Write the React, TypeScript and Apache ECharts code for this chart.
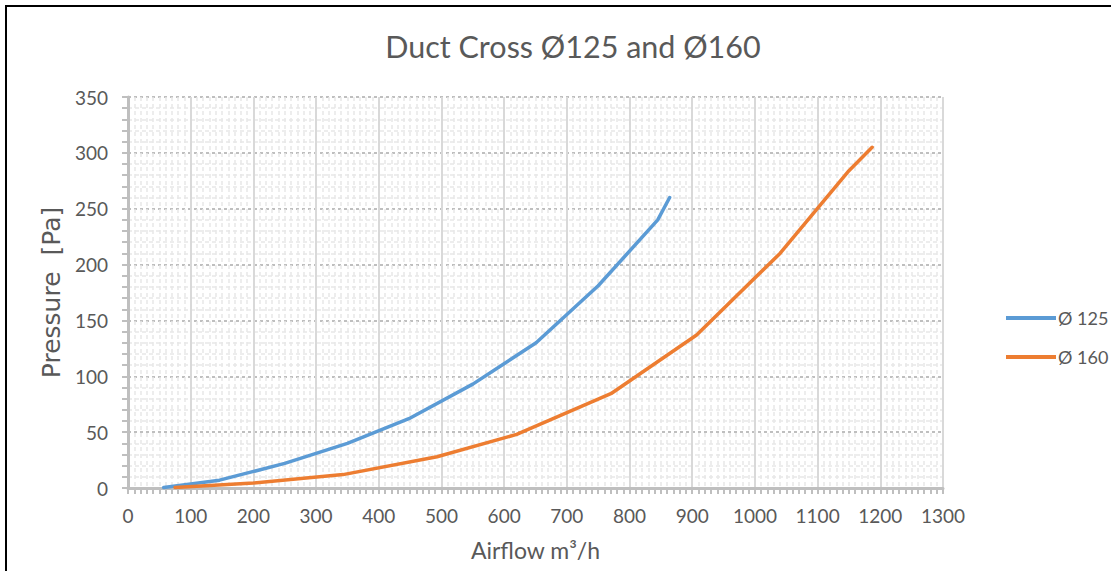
import React, { useEffect, useRef } from "react";
import * as echarts from "echarts";

const titleText = "Duct Cross Ø125 and Ø160";
const xAxisName = "Airflow m³/h";
const yAxisName = "Pressure  [Pa]";
const seriesNames = ["Ø 125", "Ø 160"];

const d125X = [57, 146, 250, 350, 448, 550, 651, 750, 845, 864];
const d125Y = [0.5, 7, 22, 40, 62, 93, 130, 181, 240, 260];

const d160X = [75, 200, 343, 493, 620, 772, 907, 1040, 1150, 1187];
const d160Y = [0.5, 4.5, 12, 28, 48, 85, 137, 210, 284, 305];

const FONT = "Lato, 'Open Sans', sans-serif";
const TXT = "#595959";

export default function App() {
  const ref = useRef<HTMLDivElement>(null);
  useEffect(() => {
    if (!ref.current) return;
    const chart = echarts.init(ref.current, undefined, { renderer: "svg" });
    const pairs = (xs: number[], ys: number[]) => xs.map((x, i) => [x, ys[i]]);
    chart.setOption({
      animation: false,
      backgroundColor: "#fff",
      textStyle: { fontFamily: FONT },
      title: {
        text: titleText,
        left: 568,
        textAlign: "center",
        top: 25,
        textStyle: { fontFamily: FONT, fontSize: 30.5, fontWeight: "normal", color: TXT },
      },
      graphic: [
        { type: "line", shape: { x1: 6, y1: 6, x2: 1111, y2: 6 }, style: { stroke: "#000", lineWidth: 2 } },
        { type: "line", shape: { x1: 6, y1: 5, x2: 6, y2: 571 }, style: { stroke: "#000", lineWidth: 2 } },
      ],
      legend: {
        orient: "vertical",
        left: 1001,
        top: 304,
        itemWidth: 50,
        itemHeight: 4,
        itemGap: 21,
        icon: "rect",
        textStyle: { fontFamily: FONT, fontSize: 18, color: TXT, padding: [0, 0, 0, -3] },
        data: seriesNames,
      },
      grid: { left: 128, right: 168, top: 97, bottom: 83, containLabel: false },
      xAxis: {
        type: "value",
        min: 0,
        max: 1300,
        interval: 100,
        name: xAxisName,
        nameLocation: "middle",
        nameGap: 50,
        nameTextStyle: { fontFamily: FONT, fontSize: 23, color: TXT },
        axisLine: { show: true, lineStyle: { color: "#bfbfbf", width: 3 } },
        axisTick: { show: true, length: 6, lineStyle: { color: "#bfbfbf", width: 2 } },
        minorTick: { show: true, splitNumber: 10, length: 6, lineStyle: { color: "#bfbfbf", width: 2 } },
        axisLabel: {
          fontFamily: FONT,
          fontSize: 19,
          color: TXT,
          margin: 18,
          formatter: (v: number) => String(v),
        },
        splitLine: { show: true, lineStyle: { color: "#d9d9d9", width: 2, type: "solid" } },
        minorSplitLine: { show: true, lineStyle: { color: "#e8e8e8", width: 1.5, type: [4, 3] } },
      },
      yAxis: {
        type: "value",
        min: 0,
        max: 350,
        interval: 50,
        name: yAxisName,
        nameLocation: "middle",
        nameGap: 64,
        nameTextStyle: { fontFamily: "'DejaVu Sans', sans-serif", fontSize: 25, color: TXT },
        axisLine: { show: true, lineStyle: { color: "#bfbfbf", width: 3 } },
        axisTick: { show: true, length: 6, lineStyle: { color: "#bfbfbf", width: 2 } },
        minorTick: { show: true, splitNumber: 5, length: 6, lineStyle: { color: "#bfbfbf", width: 2 } },
        axisLabel: { fontFamily: FONT, fontSize: 19, color: TXT, margin: 20 },
        splitLine: { show: true, lineStyle: { color: "#bfbfbf", width: 2, type: [3, 3] } },
        minorSplitLine: { show: true, lineStyle: { color: "#e8e8e8", width: 1.5, type: [4, 3] } },
      },
      series: [
        {
          name: seriesNames[0],
          type: "line",
          data: pairs(d125X, d125Y),
          showSymbol: false,
          symbol: "none",
          lineStyle: { color: "#5B9BD5", width: 3.5, cap: "round", join: "round" },
          itemStyle: { color: "#5B9BD5" },
        },
        {
          name: seriesNames[1],
          type: "line",
          data: pairs(d160X, d160Y),
          showSymbol: false,
          symbol: "none",
          lineStyle: { color: "#ED7D31", width: 3.5, cap: "round", join: "round" },
          itemStyle: { color: "#ED7D31" },
        },
      ],
    });
    return () => chart.dispose();
  }, []);
  return (
    <div
      ref={ref}
      style={{ position: "fixed", left: 0, top: 0, width: 1111, height: 571 }}
    />
  );
}
